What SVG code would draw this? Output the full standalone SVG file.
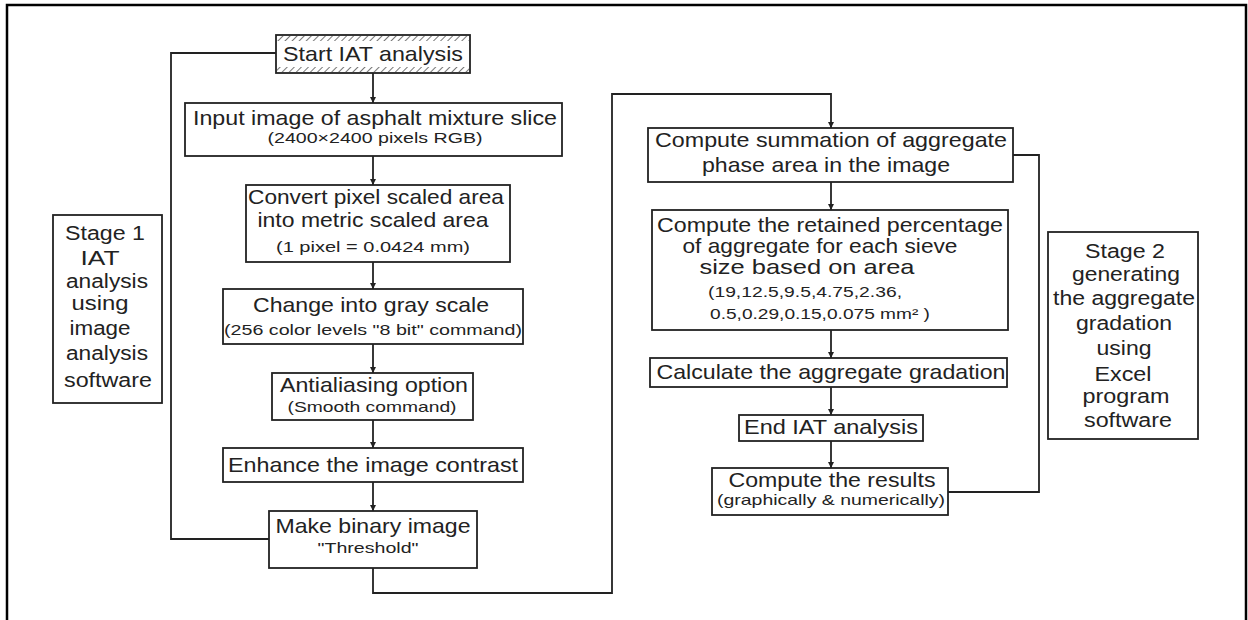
<svg xmlns="http://www.w3.org/2000/svg" width="1248" height="620" viewBox="0 0 1248 620">
<defs>
<pattern id="hatch" width="5" height="5" patternUnits="userSpaceOnUse" patternTransform="rotate(45)">
<rect width="5" height="5" fill="#fff"/>
<line x1="0" y1="0" x2="0" y2="5" stroke="#777" stroke-width="2"/>
</pattern>
<marker id="arr" viewBox="0 0 6 6" refX="6" refY="3" markerWidth="6" markerHeight="6" markerUnits="userSpaceOnUse" orient="auto">
<path d="M0,0 L6,3 L0,6 z" fill="#222"/>
</marker>
<style>
.box{fill:#fff;stroke:#222;stroke-width:1.8}
.t{font-family:"Liberation Sans",Arial,sans-serif;font-size:21px;fill:#222;text-anchor:middle}
.s{font-family:"Liberation Sans",Arial,sans-serif;font-size:15px;fill:#222;text-anchor:middle}
.st{font-family:"Liberation Sans",Arial,sans-serif;font-size:20px;fill:#222;text-anchor:middle}
.c{fill:none;stroke:#222;stroke-width:1.8}
</style>
</defs>
<rect width="1248" height="620" fill="#fff"/>
<path d="M7,625 V5 H1246 V625" fill="none" stroke="#000" stroke-width="2.5"/>

<g id="connectors">
<path class="c" d="M373,73 V103" marker-end="url(#arr)"/>
<path class="c" d="M373,156 V185" marker-end="url(#arr)"/>
<path class="c" d="M373,262 V289" marker-end="url(#arr)"/>
<path class="c" d="M373,344 V373" marker-end="url(#arr)"/>
<path class="c" d="M373,420 V448" marker-end="url(#arr)"/>
<path class="c" d="M373,482 V511" marker-end="url(#arr)"/>
<path class="c" d="M373,568 V593 H612 V94 H831 V128" marker-end="url(#arr)"/>
<path class="c" d="M831,182 V210" marker-end="url(#arr)"/>
<path class="c" d="M831,330 V358" marker-end="url(#arr)"/>
<path class="c" d="M831,387 V415" marker-end="url(#arr)"/>
<path class="c" d="M831,441 V468" marker-end="url(#arr)"/>
<path class="c" d="M276,53 H171 V539 H269"/>
<path class="c" d="M1013,155 H1039 V492 H948"/>
</g>

<g id="start">
<rect class="box" x="276" y="35" width="194" height="38"/>
<rect x="277" y="36" width="192" height="5" fill="url(#hatch)"/>
<rect x="277" y="67" width="192" height="5" fill="url(#hatch)"/>
<text class="t" x="373" y="61" textLength="180" lengthAdjust="spacingAndGlyphs">Start IAT analysis</text>
</g>

<g id="input">
<rect class="box" x="185" y="103" width="377" height="53"/>
<text class="t" x="375" y="125" textLength="364" lengthAdjust="spacingAndGlyphs">Input image of asphalt mixture slice</text>
<text class="s" x="375" y="143" textLength="215" lengthAdjust="spacingAndGlyphs">(2400×2400 pixels RGB)</text>
</g>

<g id="convert">
<rect class="box" x="246" y="185" width="264" height="77"/>
<text class="t" x="376" y="204" textLength="256" lengthAdjust="spacingAndGlyphs">Convert pixel scaled area</text>
<text class="t" x="373" y="227" textLength="231" lengthAdjust="spacingAndGlyphs">into metric scaled area</text>
<text class="s" x="373" y="252" textLength="194" lengthAdjust="spacingAndGlyphs">(1 pixel = 0.0424 mm)</text>
</g>

<g id="gray">
<rect class="box" x="223" y="289" width="300" height="55"/>
<text class="t" x="371" y="312" textLength="236" lengthAdjust="spacingAndGlyphs">Change into gray scale</text>
<text class="s" x="373" y="335" textLength="298" lengthAdjust="spacingAndGlyphs">(256 color levels "8 bit" command)</text>
</g>

<g id="antialias">
<rect class="box" x="272" y="373" width="201" height="47"/>
<text class="t" x="374" y="392" textLength="188" lengthAdjust="spacingAndGlyphs">Antialiasing option</text>
<text class="s" x="372" y="412" textLength="169" lengthAdjust="spacingAndGlyphs">(Smooth command)</text>
</g>

<g id="enhance">
<rect class="box" x="223" y="448" width="300" height="34"/>
<text class="t" x="373" y="472" textLength="290" lengthAdjust="spacingAndGlyphs">Enhance the image contrast</text>
</g>

<g id="binary">
<rect class="box" x="269" y="511" width="208" height="57"/>
<text class="t" x="373" y="533" textLength="195" lengthAdjust="spacingAndGlyphs">Make binary image</text>
<text class="s" x="368" y="553" textLength="101" lengthAdjust="spacingAndGlyphs">"Threshold"</text>
</g>

<g id="summation">
<rect class="box" x="648" y="128" width="365" height="54"/>
<text class="t" x="831" y="147" textLength="352" lengthAdjust="spacingAndGlyphs">Compute summation of aggregate</text>
<text class="t" x="826" y="172" textLength="248" lengthAdjust="spacingAndGlyphs">phase area in the image</text>
</g>

<g id="retained">
<rect class="box" x="652" y="210" width="356" height="120"/>
<text class="t" x="830" y="232" textLength="346" lengthAdjust="spacingAndGlyphs">Compute the retained percentage</text>
<text class="t" x="820" y="253" textLength="275" lengthAdjust="spacingAndGlyphs">of aggregate for each sieve</text>
<text class="t" x="807" y="274" textLength="215" lengthAdjust="spacingAndGlyphs">size based on area</text>
<text class="s" x="805" y="297" textLength="194" lengthAdjust="spacingAndGlyphs">(19,12.5,9.5,4.75,2.36,</text>
<text class="s" x="820" y="319" textLength="220" lengthAdjust="spacingAndGlyphs">0.5,0.29,0.15,0.075 mm² )</text>
</g>

<g id="calculate">
<rect class="box" x="650" y="358" width="357" height="29"/>
<text class="t" x="831" y="379" textLength="349" lengthAdjust="spacingAndGlyphs">Calculate the aggregate gradation</text>
</g>

<g id="end">
<rect class="box" x="739" y="415" width="184" height="26"/>
<text class="t" x="831" y="434" textLength="174" lengthAdjust="spacingAndGlyphs">End IAT analysis</text>
</g>

<g id="results">
<rect class="box" x="712" y="468" width="236" height="47"/>
<text class="t" x="832" y="487" textLength="207" lengthAdjust="spacingAndGlyphs">Compute the results</text>
<text class="s" x="831" y="505" textLength="228" lengthAdjust="spacingAndGlyphs">(graphically &amp; numerically)</text>
</g>

<g id="stage1">
<rect class="box" x="53" y="215" width="109" height="188" stroke-width="1.5"/>
<text class="st" x="105" y="240" textLength="80" lengthAdjust="spacingAndGlyphs">Stage 1</text>
<text class="st" x="100" y="265" textLength="39" lengthAdjust="spacingAndGlyphs">IAT</text>
<text class="st" x="107" y="288" textLength="82" lengthAdjust="spacingAndGlyphs">analysis</text>
<text class="st" x="100" y="310" textLength="57" lengthAdjust="spacingAndGlyphs">using</text>
<text class="st" x="100" y="335" textLength="61" lengthAdjust="spacingAndGlyphs">image</text>
<text class="st" x="107" y="360" textLength="82" lengthAdjust="spacingAndGlyphs">analysis</text>
<text class="st" x="108" y="387" textLength="88" lengthAdjust="spacingAndGlyphs">software</text>
</g>

<g id="stage2">
<rect class="box" x="1048" y="232" width="150" height="207" stroke-width="1.5"/>
<text class="st" x="1125" y="258" textLength="80" lengthAdjust="spacingAndGlyphs">Stage 2</text>
<text class="st" x="1126" y="281" textLength="108" lengthAdjust="spacingAndGlyphs">generating</text>
<text class="st" x="1124" y="305" textLength="142" lengthAdjust="spacingAndGlyphs">the aggregate</text>
<text class="st" x="1124" y="330" textLength="96" lengthAdjust="spacingAndGlyphs">gradation</text>
<text class="st" x="1124" y="355" textLength="55" lengthAdjust="spacingAndGlyphs">using</text>
<text class="st" x="1123" y="381" textLength="57" lengthAdjust="spacingAndGlyphs">Excel</text>
<text class="st" x="1126" y="403" textLength="87" lengthAdjust="spacingAndGlyphs">program</text>
<text class="st" x="1128" y="427" textLength="88" lengthAdjust="spacingAndGlyphs">software</text>
</g>
</svg>
